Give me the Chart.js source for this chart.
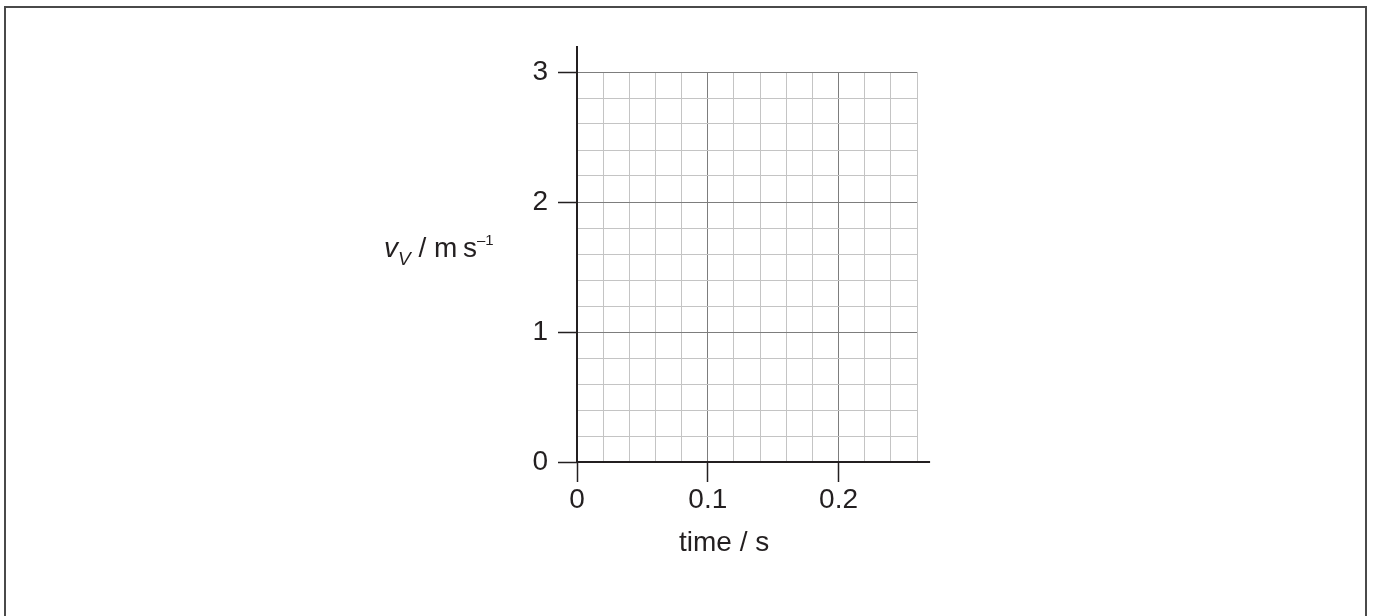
<!DOCTYPE html>
<html>
<head>
<meta charset="utf-8">
<script src="https://cdn.jsdelivr.net/npm/chart.js@4.4.1/dist/chart.umd.min.js"></script>
<style>
    html, body { margin: 0; padding: 0; background: #fff; }
    #wrap { position: relative; width: 1373px; height: 616px; overflow: hidden; }
    #frame {
        position: absolute; left: 4px; top: 6px; width: 1363px; height: 640px;
        border: 2px solid #4a4a4a; box-sizing: border-box;
    }
    canvas { position: absolute; left: 0; top: 0; }
    .axis-title {
        position: absolute; font-family: "Liberation Sans", Arial, sans-serif;
        font-size: 28px; line-height: 28px; color: #231f20; white-space: nowrap;
    }
    .axis-title sub, .axis-title sup { vertical-align: baseline; position: relative; }
    .axis-title sub { font-size: 19px; top: 8px; }
    .axis-title sup { font-size: 15px; top: -12px; }
</style>
</head>
<body>
<div id="wrap">
    <div id="frame"></div>
    <canvas id="chart" width="1373" height="616"></canvas>
    <div class="axis-title" id="y-title" style="left:384px; top:234px;"><i>v</i><sub><i>V</i></sub> / m&#8201;s<sup>–1</sup></div>
    <div class="axis-title" id="x-title" style="left:679px; top:528px;">time / s</div>
</div>
<script>
// --- Axis data ---
const X_MIN = 0;
const X_MAX = 0.26;       // grid ends here
const X_STEP = 0.02;      // small squares
const X_AXIS_END = 0.27;  // axis line runs a little past the grid
const X_LABELS = [0, 0.1, 0.2];

const Y_MIN = 0;
const Y_MAX = 3;
const Y_STEP = 0.2;
const Y_AXIS_END = 3.2;
const Y_LABELS = [0, 1, 2, 3];

const INK = '#231f20';
const MINOR_GRID = '#c4c4c4';
const MAJOR_GRID = '#7d7d7d';
const FONT = { family: '"Liberation Sans", Arial, sans-serif', size: 28 };

const isLabel = (list, v) => list.some(l => Math.abs(l - v) < 1e-9);

// axis lines drawn from the scales, so they can overrun the grid
const axisLines = {
    id: 'axisLines',
    afterDraw(chart) {
        const { ctx, scales: { x, y } } = chart;
        const x0 = Math.round(x.getPixelForValue(X_MIN));
        const y0 = Math.round(y.getPixelForValue(Y_MIN));
        ctx.save();
        ctx.strokeStyle = INK;
        ctx.lineWidth = 2;
        ctx.beginPath();
        ctx.moveTo(x0, y.getPixelForValue(Y_AXIS_END));
        ctx.lineTo(x0, y0);
        ctx.moveTo(x0, y0);
        ctx.lineTo(x.getPixelForValue(X_AXIS_END), y0);
        ctx.stroke();
        ctx.restore();
    }
};

const ctx = document.getElementById('chart').getContext('2d');
new Chart(ctx, {
    type: 'scatter',
    data: { datasets: [{ data: [], showLine: false }] },
    options: {
        responsive: false,
        animation: false,
        devicePixelRatio: 1,
        layout: { padding: { left: 517, right: 456, top: 72, bottom: 94 } },
        plugins: { legend: { display: false }, tooltip: { enabled: false } },
        scales: {
            x: {
                type: 'linear',
                min: X_MIN,
                max: X_MAX,
                afterFit(scale) { scale.height = 60; },
                border: { display: false },
                grid: {
                    color: c => isLabel(X_LABELS, c.tick.value) ? MAJOR_GRID : MINOR_GRID,
                    lineWidth: 1,
                    tickLength: 20,
                    tickWidth: 1.5,
                    tickColor: c => isLabel(X_LABELS, c.tick.value) ? INK : 'rgba(0,0,0,0)'
                },
                ticks: {
                    stepSize: X_STEP,
                    autoSkip: false,
                    maxRotation: 0,
                    padding: 1,
                    color: INK,
                    font: FONT,
                    callback: v => isLabel(X_LABELS, v) ? String(+v.toFixed(1)) : ''
                }
            },
            y: {
                type: 'linear',
                min: Y_MIN,
                max: Y_MAX,
                afterFit(scale) { scale.width = 60; },
                border: { display: false },
                grid: {
                    color: c => isLabel(Y_LABELS, c.tick.value) ? MAJOR_GRID : MINOR_GRID,
                    lineWidth: 1,
                    tickLength: 19,
                    tickWidth: 1.5,
                    tickColor: c => isLabel(Y_LABELS, c.tick.value) ? INK : 'rgba(0,0,0,0)'
                },
                ticks: {
                    stepSize: Y_STEP,
                    autoSkip: false,
                    padding: 10,
                    color: INK,
                    font: FONT,
                    callback: v => isLabel(Y_LABELS, v) ? String(Math.round(v)) : ''
                }
            }
        }
    },
    plugins: [axisLines]
});
</script>
</body>
</html>
